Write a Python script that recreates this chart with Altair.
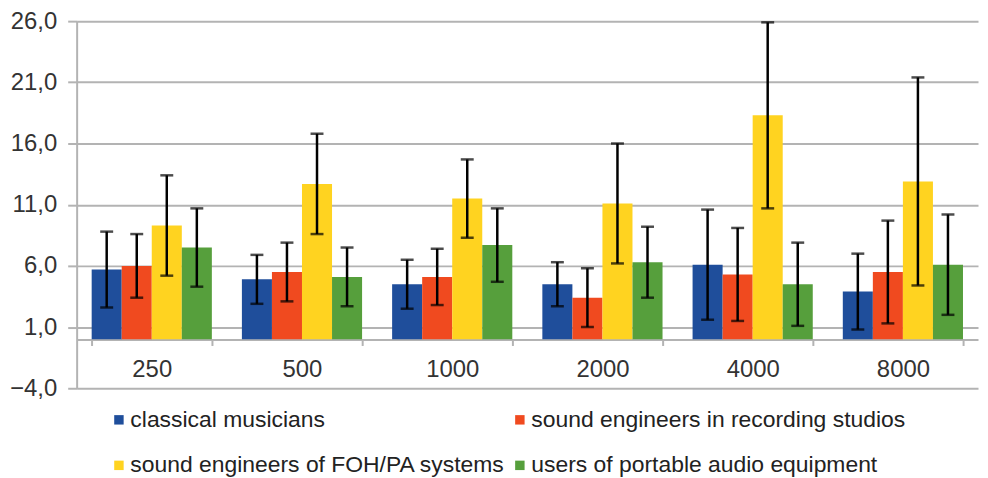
import altair as alt
import pandas as pd

frequencies = ["250", "500", "1000", "2000", "4000", "8000"]
groups = [
    "classical musicians",
    "sound engineers in recording studios",
    "sound engineers of FOH/PA systems",
    "users of portable audio equipment",
]
colors = ["#1f4e9b", "#f04a1f", "#ffd320", "#569f3c"]

classical = [5.7, 4.9, 4.5, 4.5, 6.1, 3.9]
classical_sd = [3.1, 2.0, 2.0, 1.8, 4.5, 3.1]
recording = [6.0, 5.5, 5.1, 3.4, 5.3, 5.5]
recording_sd = [2.6, 2.4, 2.3, 2.4, 3.8, 4.2]
foh = [9.3, 12.7, 11.5, 11.1, 18.3, 12.9]
foh_sd = [4.1, 4.1, 3.2, 4.9, 7.6, 8.5]
portable = [7.5, 5.1, 7.7, 6.3, 4.5, 6.1]
portable_sd = [3.2, 2.4, 3.0, 2.9, 3.4, 4.1]

y_ticks = [-4, 1, 6, 11, 16, 21, 26]

means = [classical, recording, foh, portable]
sds = [classical_sd, recording_sd, foh_sd, portable_sd]

rows = []
for g, m, s in zip(groups, means, sds):
    for f, mv, sv in zip(frequencies, m, s):
        rows.append({"freq": f, "group": g, "mean": mv, "lo": mv - sv,
                     "hi": mv + sv, "base": 0})
df = pd.DataFrame(rows)

W, H = 906, 369
YMIN, YMAX = -4, 26
x_axis_offset = -round(H * (0 - YMIN) / (YMAX - YMIN))
FONT = "Liberation Sans"
GRID = "#b3b3b3"

x = alt.X(
    "freq:N", sort=frequencies,
    scale=alt.Scale(paddingInner=0.2, paddingOuter=0.1),
    axis=alt.Axis(
        title=None, orient="bottom", offset=x_axis_offset, labelAngle=0,
        labelFont=FONT, labelFontSize=24, labelColor="#333333",
        labelPadding=12, tickBand="extent", tickSize=6, tickColor=GRID,
        tickWidth=2, domainColor=GRID, domainWidth=2, grid=False,
    ),
)
xoff = alt.XOffset("group:N", sort=groups,
                   scale=alt.Scale(paddingInner=0, paddingOuter=0))
yscale = alt.Scale(domain=[YMIN, YMAX], nice=False, zero=False)

bars = alt.Chart(df).mark_bar().encode(
    x=x,
    xOffset=xoff,
    y=alt.Y(
        "mean:Q", scale=yscale,
        axis=alt.Axis(
            title=None, values=y_ticks,
            labelExpr="replace(format(datum.value, '.1f'), '.', ',')",
            labelFont=FONT, labelFontSize=24, labelColor="#333333",
            labelPadding=11, tickSize=9, tickColor=GRID, tickWidth=2,
            domainColor=GRID, domainWidth=2, gridColor=GRID, gridWidth=2,
        ),
    ),
    y2="base:Q",
    color=alt.Color(
        "group:N", sort=groups,
        scale=alt.Scale(domain=groups, range=colors),
        legend=alt.Legend(
            title=None, orient="none", legendX=31, legendY=389, columns=2,
            direction="horizontal",
            symbolType="square", symbolSize=90, symbolStrokeWidth=0,
            labelFont=FONT, labelFontSize=23, labelColor="#222222",
            labelLimit=700, labelOffset=0, columnPadding=3, rowPadding=22,
            padding=0,
        ),
    ),
)

rules = alt.Chart(df).mark_rule(color="black", strokeWidth=2.5).encode(
    x=x, xOffset=xoff, y=alt.Y("lo:Q", scale=yscale), y2="hi:Q"
)
caps_lo = alt.Chart(df).mark_tick(color="black", thickness=2.5, size=13).encode(
    x=x, xOffset=xoff, y=alt.Y("lo:Q", scale=yscale)
)
caps_hi = alt.Chart(df).mark_tick(color="black", thickness=2.5, size=13).encode(
    x=x, xOffset=xoff, y=alt.Y("hi:Q", scale=yscale)
)

chart = (
    alt.layer(bars, rules, caps_lo, caps_hi)
    .properties(
        width=W, height=H,
        autosize=alt.AutoSizeParams(type="none"),
        padding={"left": 69, "top": 12, "right": 2, "bottom": 89},
        background="white",
    )
    .configure_view(stroke=None)
)

chart.save("out.html", embed_options={"renderer": "svg", "actions": False})
